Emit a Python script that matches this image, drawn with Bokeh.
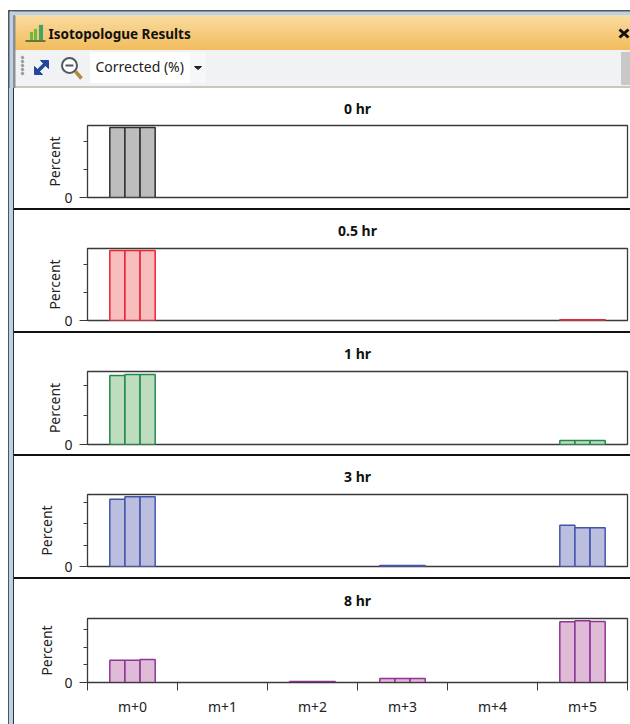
from bokeh.plotting import figure
from bokeh.layouts import column
from bokeh.models import Range1d, FixedTicker
from bokeh.core.properties import value
from bokeh.embed import file_html
from bokeh.resources import INLINE
import numpy as np

# ---------------- data ----------------
categories = ["m+0", "m+1", "m+2", "m+3", "m+4", "m+5"]
titles = ["0 hr", "0.5 hr", "1 hr", "3 hr", "8 hr"]
hr_0 = [[100, 100, 100], [0, 0, 0], [0, 0, 0], [0, 0, 0], [0, 0, 0], [0, 0, 0]]
hr_05 = [[99.3, 99.3, 99.3], [0, 0, 0], [0, 0, 0], [0, 0, 0], [0, 0, 0], [1, 1, 1]]
hr_1 = [[93.5, 94.8, 94.8], [0, 0, 0], [0, 0, 0], [0, 0, 0], [0, 0, 0], [5.5, 5.5, 5.5]]
hr_3 = [[62.6, 64.8, 64.8], [0, 0, 0], [0, 0, 0], [1, 1, 1], [0, 0, 0], [38.4, 36, 36]]
hr_8 = [[25, 25, 26], [0, 0, 0], [1, 1, 1], [4.5, 4.5, 4.5], [0, 0, 0], [68.6, 69.8, 68.8]]
series = [hr_0, hr_05, hr_1, hr_3, hr_8]
y_max = [102.9, 102, 99, 67, 72.3]
y_minor = [[40, 80], [40, 80], [40, 80], [20, 40, 60], [20, 40, 60]]
fills = ["#BDBDBD", "#F8BDBD", "#BEDDBE", "#BBBEDF", "#E0BBD8"]
lines = ["#303030", "#EE2233", "#1E8A4E", "#4355AA", "#8E3595"]

# ---------------- layout ----------------
W = 630
panel_h = [122, 123, 123, 123, 145]
frame_top = [37, 38, 38, 38, 39]
frame_h = [72, 72, 73, 72, 64]
label_standoff = [-3, -3, -3, 5, 5]
title_standoff = [15, 17, 17, 17, 17]
FONT = "Noto Sans"
DARK = "#3A3A3A"
BAR = 0.168
EDGE = ("linear-gradient(to right, white 0 8px, #555 8px 9.5px, #B9D2EA 9.5px 13px, "
        "#333 13px 14.5px, transparent 14.5px)")


def panel_css(last):
    layers = [EDGE + " no-repeat 0 0 / 100% 100%"]
    if not last:
        layers.append("linear-gradient(#111,#111) no-repeat 14px calc(100% - 0.5px) / 100% 2px")
    return {"background": ", ".join(layers) + ", white"}


# ---------------- header ----------------
H = 88
head = figure(width=W, height=H, x_range=(0, W), y_range=(H, 0),
              x_axis_location=None, y_axis_location=None, toolbar_location=None,
              output_backend="svg", min_border=0, outline_line_alpha=0,
              background_fill_color="white", border_fill_color="white")
head.grid.visible = False
head.quad(left=8, right=W, top=10, bottom=11.5, color="#555555")
head.quad(left=8, right=W, top=11.5, bottom=15, color="#B9D2EA")
ys = np.arange(15, 50)
c0, c1 = np.array([0xF9, 0xDC, 0xA0]), np.array([0xF3, 0xBD, 0x5E])
cols = ["#%02X%02X%02X" % tuple((c0 + (c1 - c0) * (y - 15) / 34).astype(int)) for y in ys]
head.quad(left=8, right=W, top=ys, bottom=ys + 1, color=cols)
head.quad(left=8, right=W, top=50, bottom=86, color="#F0F2F3")
head.quad(left=8, right=W, top=86, bottom=88, color="#C9C7BE")
head.quad(left=621, right=W, top=52, bottom=84, color="#C8C8C8")
head.quad(left=90, right=190, top=52, bottom=82, color="white")
head.quad(left=190, right=205, top=52, bottom=82, color="#F6F7F8")
head.patch([194, 201, 197.5], [66, 66, 69], color="#222222")
head.quad(left=8, right=9.5, top=10, bottom=88, color="#555555")
head.quad(left=9.5, right=13, top=11.5, bottom=88, color="#B9D2EA")
head.quad(left=13, right=14.5, top=15, bottom=88, color="#8E8E8E")
# chart icon
head.quad(left=[29, 33, 38], right=[33, 37, 43], top=[31, 28, 24], bottom=[40, 40, 40],
          color=["#6DBB3C", "#6DBB3C", "#3FA36A"], line_color="#F5C878", line_width=1)
head.segment(x0=[25], y0=[40.5], x1=[45], y1=[40.5], color="#3C5A2A", line_width=1.5)
head.text(x=[48], y=[33.5], text=["Isotopologue Results"], text_font=value(FONT),
          text_font_style="bold", text_font_size="13.5px", text_baseline="middle",
          text_color="#111111")
# grip
head.scatter(x=[22] * 5, y=[57, 61, 65, 69, 73], size=2.5, color="#999999")
# expand arrows
head.patch([48, 40, 48], [60, 60, 68], color="#24479A")
head.patch([34, 42, 34], [74, 74, 66], color="#24479A")
head.segment(x0=[37], y0=[71], x1=[45], y1=[63], color="#24479A", line_width=3.5)
# zoom out
head.segment(x0=[75], y0=[71], x1=[81], y1=[78], color="#B08A3C", line_width=3.5)
head.circle(x=[69], y=[65], radius=7.5, fill_color="#FFFFFF", line_color="#505860", line_width=2)
head.segment(x0=[65], y0=[65], x1=[73], y1=[65], color="#505860", line_width=2)
head.text(x=[95], y=[66], text=["Corrected (%)"], text_font=value(FONT),
          text_font_size="14px", text_baseline="middle", text_color="#222222")
# close
head.segment(x0=[619, 619], y0=[29, 37], x1=[628, 628], y1=[37, 29], color="#111111", line_width=3)

# ---------------- panels ----------------
figs = []
n = len(categories)
for i, title in enumerate(titles):
    last = i == len(titles) - 1
    ph = panel_h[i]
    p = figure(width=W, height=ph, x_range=Range1d(0, n), y_range=Range1d(0, y_max[i]),
               x_axis_location="below" if last else None, y_axis_location="left",
               toolbar_location=None, output_backend="svg", title=title,
               min_border_left=87, min_border_right=3, min_border_top=frame_top[i],
               min_border_bottom=ph - frame_top[i] - frame_h[i],
               outline_line_color=DARK, outline_line_width=1.3,
               background_fill_color="white", border_fill_alpha=0,
               styles=panel_css(last))
    p.grid.visible = False
    p.title.align = "center"
    p.title.text_font = FONT
    p.title.text_font_size = "14px"
    p.title.text_font_style = "bold"
    p.title.text_color = "#111111"
    p.title.standoff = title_standoff[i]

    xs, tops = [], []
    for c in range(n):
        for r in range(3):
            if series[i][c][r] > 0:
                xs.append(c + 0.5 + (r - 1) * BAR)
                tops.append(series[i][c][r])
    p.vbar(x=xs, top=tops, bottom=0, width=BAR, fill_color=fills[i],
           line_color=lines[i], line_width=1.5)

    ax = p.yaxis[0]
    ax.ticker = FixedTicker(ticks=[0], minor_ticks=y_minor[i])
    ax.axis_label = "Percent"
    ax.axis_label_text_font = FONT
    ax.axis_label_text_font_style = "normal"
    ax.axis_label_text_font_size = "14px"
    ax.axis_label_text_color = "#222222"
    ax.axis_label_standoff = label_standoff[i]
    ax.major_label_text_font = FONT
    ax.major_label_text_font_size = "14px"
    ax.major_label_text_color = "#222222"
    ax.major_label_standoff = 7
    ax.major_tick_in = 0
    ax.major_tick_out = 8
    ax.minor_tick_in = 0
    ax.minor_tick_out = 4
    ax.axis_line_color = DARK
    ax.major_tick_line_color = DARK
    ax.minor_tick_line_color = DARK

    if last:
        xa = p.xaxis[0]
        centers = [c + 0.5 for c in range(n)]
        xa.ticker = FixedTicker(ticks=centers, minor_ticks=list(range(n + 1)))
        xa.major_label_overrides = {c + 0.5: categories[c] for c in range(n)}
        xa.major_tick_in = 0
        xa.major_tick_out = 0
        xa.minor_tick_in = 0
        xa.minor_tick_out = 8
        xa.major_label_standoff = 6
        xa.major_label_text_font = FONT
        xa.major_label_text_font_size = "14px"
        xa.major_label_text_color = "#222222"
        xa.axis_line_color = DARK
        xa.minor_tick_line_color = DARK
    figs.append(p)

page = column(head, column(*figs, spacing=0), spacing=0)
open("out.html", "w").write(file_html(page, INLINE))
